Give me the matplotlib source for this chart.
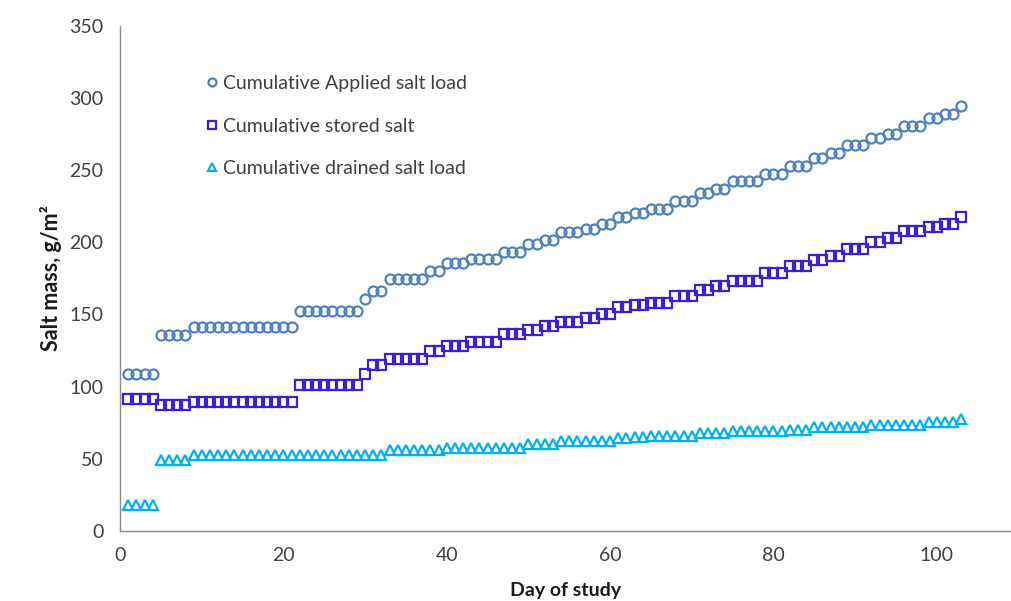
import matplotlib
matplotlib.use("Agg")
import matplotlib.pyplot as plt

plt.rcParams['font.family'] = ['Lato', 'DejaVu Sans']

# Day of study
days = list(range(1, 104))

# Cumulative applied salt load (g/m2)
applied = [
    109, 109, 109, 109,
    136, 136, 136, 136,
    141.5, 141.5, 141.5, 141.5, 141.5, 141.5, 141.5, 141.5, 141.5, 141.5, 141.5, 141.5, 141.5,
    152.5, 152.5, 152.5, 152.5, 152.5, 152.5, 152.5, 152.5,
    161,
    166, 166,
    174.5, 174.5, 174.5, 174.5, 174.5,
    180, 180,
    185.5, 185.5, 185.5,
    188.5, 188.5, 188.5, 188.5,
    193.5, 193.5, 193.5,
    198.8, 198.8,
    201.5, 201.5,
    206.8, 206.8, 206.8,
    209.5, 209.5,
    212.5, 212.5,
    217.5, 217.5,
    220.5, 220.5,
    223, 223, 223,
    228.5, 228.5, 228.5,
    234, 234,
    237, 237,
    242.5, 242.5, 242.5, 242.5,
    247.5, 247.5, 247.5,
    253, 253, 253,
    258.7, 258.7,
    261.7, 261.7,
    267.2, 267.2, 267.2,
    272, 272,
    274.8, 274.8,
    280.6, 280.6, 280.6,
    286, 286,
    289, 289,
    294.5,
]

# Cumulative stored salt (g/m2)
stored = [
    91, 91, 91, 91,
    87.5, 87.5, 87.5, 87.5,
    89.5, 89.5, 89.5, 89.5, 89.5, 89.5, 89.5, 89.5, 89.5, 89.5, 89.5, 89.5, 89.5,
    100.7, 100.7, 100.7, 100.7, 100.7, 100.7, 100.7, 100.7,
    109,
    114.8, 114.8,
    119, 119, 119, 119, 119,
    124.7, 124.7,
    128.2, 128.2, 128.2,
    130.7, 130.7, 130.7, 130.7,
    136.5, 136.5, 136.5,
    139.3, 139.3,
    142, 142,
    144.8, 144.8, 144.8,
    147.6, 147.6,
    150.3, 150.3,
    154.8, 154.8,
    156.2, 156.2,
    158.1, 158.1, 158.1,
    162.9, 162.9, 162.9,
    167, 167,
    170, 170,
    173.5, 173.5, 173.5, 173.5,
    179, 179, 179,
    183.8, 183.8, 183.8,
    187.5, 187.5,
    190.3, 190.3,
    195.2, 195.2, 195.2,
    200, 200,
    202.8, 202.8,
    207.9, 207.9, 207.9,
    210.6, 210.6,
    212.7, 212.7,
    217.6,
]

# Cumulative drained salt load (g/m2)
drained = [
    18, 18, 18, 18,
    49, 49, 49, 49,
    52.5, 52.5, 52.5, 52.5, 52.5, 52.5, 52.5, 52.5, 52.5, 52.5, 52.5, 52.5,
    52.5, 52.5, 52.5, 52.5, 52.5, 52.5, 52.5, 52.5, 52.5, 52.5, 52.5, 52.5,
    56, 56, 56, 56, 56, 56, 56,
    57.5, 57.5, 57.5, 57.5, 57.5, 57.5, 57.5, 57.5, 57.5, 57.5,
    60.2, 60.2, 60.2, 60.2,
    62.4, 62.4, 62.4, 62.4, 62.4, 62.4, 62.4,
    64.5, 64.5,
    65.2, 65.2,
    66, 66, 66, 66, 66, 66,
    67.9, 67.9, 67.9, 67.9,
    69.2, 69.2, 69.2, 69.2, 69.2, 69.2, 69.2,
    70, 70, 70,
    72.2, 72.2, 72.2, 72.2, 72.2, 72.2, 72.2,
    73.5, 73.5, 73.5, 73.5, 73.5, 73.5, 73.5,
    75.6, 75.6, 75.6, 75.6,
    77.7,
]

labels = ["Cumulative Applied salt load",
          "Cumulative stored salt",
          "Cumulative drained salt load"]
x_ticks = [0, 20, 40, 60, 80, 100]
y_ticks = [0, 50, 100, 150, 200, 250, 300, 350]

fig = plt.figure(figsize=(10.11, 6.01), dpi=100)
ax = fig.add_axes([120 / 1011, 70.3 / 601, 891 / 1011, 504.7 / 601])

mk = dict(linestyle='none', markerfacecolor='none', markersize=7.2, markeredgewidth=1.6)
ax.plot(days, applied, marker='o', markeredgecolor='#4F81BD', label=labels[0], **mk)
ax.plot(days, stored, marker='s', markeredgecolor='#3A22D0', label=labels[1], **mk)
ax.plot(days, drained, marker='^', markeredgecolor='#00B0F0', label=labels[2], **mk)

ax.set_xlim(0, 109.1)
ax.set_ylim(0, 350)
ax.set_xticks(x_ticks)
ax.set_yticks(y_ticks)
ax.tick_params(length=0, labelsize=14, labelcolor='#404040', pad=12)

for side in ('top', 'right'):
    ax.spines[side].set_visible(False)
for side in ('left', 'bottom'):
    ax.spines[side].set_color('#8C8C8C')
    ax.spines[side].set_linewidth(1.0)

ax.set_xlabel("Day of study", fontsize=14, fontweight='bold', color='#1a1a1a', labelpad=13)
ax.set_ylabel("Salt mass, g/m²", fontsize=15.5, fontweight='bold', color='#1a1a1a', labelpad=5)

leg = ax.legend(loc='upper left', bbox_to_anchor=(0.077, 0.937), frameon=False,
                fontsize=14, handlelength=0.6, handletextpad=0.25,
                labelspacing=1.31, markerscale=0.8)
for t in leg.get_texts():
    t.set_color('#404040')

fig.savefig("out.png", dpi=100)
